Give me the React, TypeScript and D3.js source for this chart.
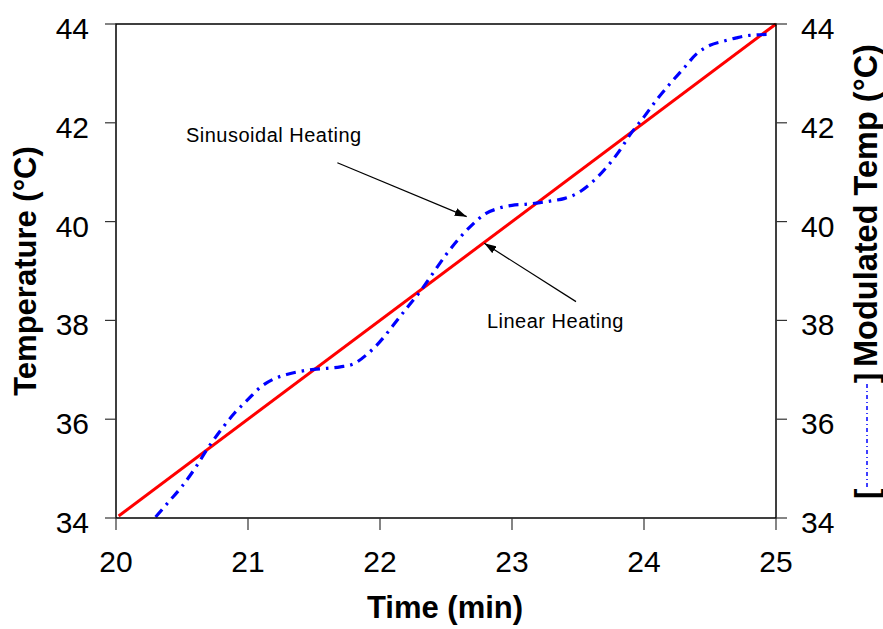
import React from 'react';
import * as d3 from 'd3';

// axis ticks
const xTicks = [20, 21, 22, 23, 24, 25];
const yTicks = [34, 36, 38, 40, 42, 44];

// linear heating ramp (red)
const linearTime = [20.02, 25.0];
const linearTemp = [34.04, 44.0];

// modulated (sinusoidal) heating (blue)
const sinTime = [
  20.3, 20.4, 20.5, 20.6, 20.7, 20.8, 20.9, 21.0, 21.1, 21.2, 21.3, 21.4, 21.5, 21.6,
  21.7, 21.8, 21.9, 22.0, 22.1, 22.2, 22.3, 22.4, 22.5, 22.6, 22.7, 22.8, 22.9, 23.0,
  23.1, 23.2, 23.3, 23.4, 23.5, 23.6, 23.7, 23.8, 23.9, 24.0, 24.1, 24.2, 24.3, 24.4,
  24.5, 24.6, 24.7, 24.8, 24.95,
];
const sinTemp = [
  34.02, 34.33, 34.64, 35.01, 35.43, 35.8, 36.13, 36.4, 36.66, 36.82, 36.91, 36.97, 37.01, 37.03,
  37.06, 37.12, 37.31, 37.57, 37.9, 38.24, 38.57, 38.95, 39.33, 39.66, 39.94, 40.16, 40.27, 40.33,
  40.35, 40.38, 40.42, 40.47, 40.58, 40.78, 41.05, 41.38, 41.78, 42.12, 42.48, 42.8, 43.1, 43.4,
  43.57, 43.65, 43.72, 43.77, 43.79,
];

// annotations: label anchor (time, temp) and arrow from -> to
const annoText = ['Sinusoidal Heating', 'Linear Heating'];
const annoLabel = [[20.53, 41.62], [22.81, 37.85]];
const annoFrom = [[21.677, 41.19], [23.485, 38.38]];
const annoTo = [[22.657, 40.1], [22.79, 39.56]];

const W = 883;
const H = 629;
const margin = { top: 24, right: 107, bottom: 111, left: 116 };
const FONT = '"Liberation Sans", Arial, Helvetica, sans-serif';

export default function App() {
  const x = d3.scaleLinear().domain([20, 25]).range([margin.left, W - margin.right]);
  const y = d3.scaleLinear().domain([34, 44]).range([H - margin.bottom, margin.top]);
  const x0 = x.range()[0], x1 = x.range()[1];
  const y0 = y.range()[0], y1 = y.range()[1];

  const line = d3.line<[number, number]>()
    .x(d => x(d[0]))
    .y(d => y(d[1]));
  const smooth = d3.line<[number, number]>()
    .x(d => x(d[0]))
    .y(d => y(d[1]))
    .curve(d3.curveMonotoneX);

  const linPts = linearTime.map((t, i) => [t, linearTemp[i]] as [number, number]);
  const sinPts = sinTime.map((t, i) => [t, sinTemp[i]] as [number, number]);

  return (
    <div style={{ position: 'absolute', left: 0, top: 0 }}>
      <svg width={W} height={H} style={{ display: 'block', background: '#fff' }} fontFamily={FONT}>
        <defs>
          <marker id="arr" viewBox="0 0 12 8" refX="12" refY="4" markerWidth="12" markerHeight="8"
            markerUnits="userSpaceOnUse" orient="auto">
            <path d="M0,0 L12,4 L0,8 Z" fill="#000" />
          </marker>
        </defs>

        {/* data */}
        <path d={line(linPts) || ''} fill="none" stroke="#ff0000" strokeWidth={3} />
        <path d={smooth(sinPts) || ''} fill="none" stroke="#0000ff" strokeWidth={3.2}
          strokeDasharray="10 6 2.5 6" />

        {/* frame */}
        <rect x={x0} y={y1} width={x1 - x0} height={y0 - y1} fill="none" stroke="#000" strokeWidth={1.5} />

        {/* x ticks */}
        {xTicks.map(t => (
          <g key={'x' + t}>
            <line x1={x(t)} x2={x(t)} y1={y0} y2={y0 + 12} stroke="#333" strokeWidth={1.2} />
            <text x={x(t)} y={572} textAnchor="middle" fontSize={30} fill="#000">{t}</text>
          </g>
        ))}

        {/* y ticks left and right */}
        {yTicks.map(v => (
          <g key={'y' + v}>
            <line x1={x0 - 11} x2={x0} y1={y(v)} y2={y(v)} stroke="#333" strokeWidth={1.2} />
            <line x1={x1} x2={x1 + 11} y1={y(v)} y2={y(v)} stroke="#333" strokeWidth={1.2} />
            <text x={x0 - 27} y={y(v) + 15} textAnchor="end" fontSize={30} fill="#000">{v}</text>
            <text x={x1 + 25} y={y(v) + 15} textAnchor="start" fontSize={30} fill="#000">{v}</text>
          </g>
        ))}

        {/* axis titles */}
        <text x={(x0 + x1) / 2 - 1} y={618} textAnchor="middle" fontSize={31} fontWeight="bold">Time (min)</text>
        <text transform={`translate(36,${(y0 + y1) / 2}) rotate(-90)`} textAnchor="middle"
          fontSize={31} fontWeight="bold">Temperature (°C)</text>
        <g transform="translate(877,0) rotate(-90)">
          <text x={-499} y={0} fontSize={31} fontWeight="bold">[</text>
          <line x1={-487} x2={-382} y1={-10} y2={-10} stroke="#0000ff" strokeWidth={1.5}
            strokeDasharray="4 3 1 3" />
          <text x={-383} y={0} fontSize={31} fontWeight="bold">]</text>
          <text x={-367} y={0} fontSize={32.5} fontWeight="bold">Modulated Temp (°C)</text>
        </g>

        {/* annotations */}
        {annoText.map((s, i) => (
          <g key={s}>
            <text x={x(annoLabel[i][0])} y={y(annoLabel[i][1])} fontSize={20} letterSpacing={0.5}>{s}</text>
            <line x1={x(annoFrom[i][0])} y1={y(annoFrom[i][1])} x2={x(annoTo[i][0])} y2={y(annoTo[i][1])}
              stroke="#000" strokeWidth={1.2} markerEnd="url(#arr)" />
          </g>
        ))}
      </svg>
    </div>
  );
}
